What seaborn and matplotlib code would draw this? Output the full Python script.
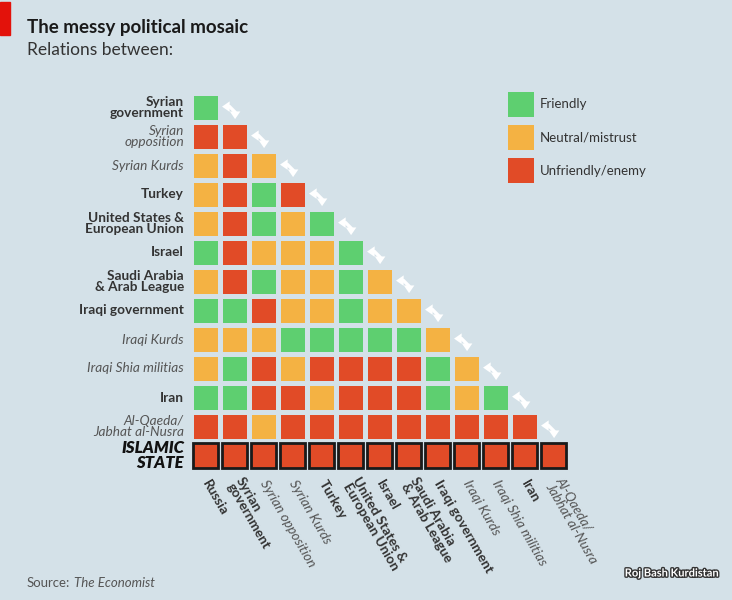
import numpy as np
import pandas as pd
import matplotlib
matplotlib.use('Agg')
import matplotlib.pyplot as plt
import seaborn as sns
from matplotlib.colors import ListedColormap
from matplotlib.patches import Patch, Rectangle
import matplotlib.patheffects as pe

# Labels of the matrix
row_labels = ['Syrian\ngovernment', 'Syrian\nopposition', 'Syrian Kurds', 'Turkey',
              'United States &\nEuropean Union', 'Israel', 'Saudi Arabia\n& Arab League',
              'Iraqi government', 'Iraqi Kurds', 'Iraqi Shia militias', 'Iran',
              'Al-Qaeda/\nJabhat al-Nusra', 'ISLAMIC\nSTATE']
col_labels = ['Russia', 'Syrian\ngovernment', 'Syrian opposition', 'Syrian Kurds', 'Turkey',
              'United States &\nEuropean Union', 'Israel', 'Saudi Arabia\n& Arab League',
              'Iraqi government', 'Iraqi Kurds', 'Iraqi Shia militias', 'Iran',
              'Al-Qaeda/\nJabhat al-Nusra']
italic_labels = ['Syrian\nopposition', 'Syrian opposition', 'Syrian Kurds', 'Iraqi Kurds',
                 'Iraqi Shia militias', 'Al-Qaeda/\nJabhat al-Nusra']

# 0 = friendly, 1 = neutral/mistrust, 2 = unfriendly/enemy
relations = [
    [0],
    [2, 2],
    [1, 2, 1],
    [1, 2, 0, 2],
    [1, 2, 0, 1, 0],
    [0, 2, 1, 1, 1, 0],
    [1, 2, 0, 1, 1, 0, 1],
    [0, 0, 2, 1, 1, 0, 1, 1],
    [1, 1, 1, 0, 0, 0, 0, 0, 1],
    [1, 0, 2, 1, 2, 2, 2, 2, 0, 1],
    [0, 0, 2, 2, 1, 2, 2, 2, 0, 1, 0],
    [2, 2, 1, 2, 2, 2, 2, 2, 2, 2, 2, 2],
    [2, 2, 2, 2, 2, 2, 2, 2, 2, 2, 2, 2, 2],
]
legend_labels = ['Friendly', 'Neutral/mistrust', 'Unfriendly/enemy']
colors = ['#5ecf70', '#f4b243', '#e14b27']

n = len(row_labels)
grid = np.full((n, len(col_labels)), np.nan)
for i, row in enumerate(relations):
    grid[i, :len(row)] = row
df = pd.DataFrame(grid, index=row_labels, columns=col_labels)

bg = '#d4e1e8'
sns.set_style('white')
plt.rcParams['font.family'] = ['Lato', 'DejaVu Sans']

fig = plt.figure(figsize=(7.32, 6), dpi=100, facecolor=bg)
ax = fig.add_axes([191 / 732, 1 - 470 / 600, 377 / 732, 377 / 600])
ax.set_facecolor(bg)

sns.heatmap(df, mask=df.isna(), cmap=ListedColormap(colors), vmin=-0.5, vmax=2.5,
            cbar=False, linewidths=2.2, linecolor=bg, ax=ax)

# black outline on the Islamic State row
for j in range(len(relations[-1])):
    ax.add_patch(Rectangle((j + 0.08, n - 1 + 0.08), 0.84, 0.84, fill=False,
                           ec='#1a1a1a', lw=2.0, zorder=3))

# white double arrows along the diagonal: left head on top, down head at bottom
head = dict(arrowstyle='-|>,head_length=0.55,head_width=0.38', color='white', lw=0,
            mutation_scale=10, shrinkA=0, shrinkB=0)
for i in range(n - 1):
    x0, y0 = i + 1, i
    ax.plot([x0 + 0.2, x0 + 0.33, x0 + 0.52, x0 + 0.52],
            [y0 + 0.47, y0 + 0.47, y0 + 0.66, y0 + 0.76],
            color='white', lw=2.4, solid_joinstyle='miter', solid_capstyle='butt')
    ax.annotate('', xy=(x0 + 0.07, y0 + 0.47), xytext=(x0 + 0.22, y0 + 0.47), arrowprops=head)
    ax.annotate('', xy=(x0 + 0.52, y0 + 0.9), xytext=(x0 + 0.52, y0 + 0.74), arrowprops=head)

ax.tick_params(axis='y', length=0, pad=5)
ax.tick_params(axis='x', length=0, pad=8)
ax.set_xlabel('')
ax.set_ylabel('')
ax.set_yticklabels(row_labels, rotation=0)
ax.set_xticklabels(col_labels, rotation=-60, ha='left', va='center', rotation_mode='anchor')

for lab in ax.get_yticklabels() + ax.get_xticklabels():
    txt = lab.get_text()
    lab.set_fontsize(9.8)
    lab.set_linespacing(0.9)
    if txt in italic_labels:
        lab.set_fontstyle('italic')
        lab.set_color('#555555')
    elif txt == 'ISLAMIC\nSTATE':
        lab.set_fontweight('heavy')
        lab.set_fontstyle('italic')
        lab.set_fontsize(12)
        lab.set_color('#111111')
        lab.set_linespacing(0.85)
    else:
        lab.set_fontweight('bold')
        lab.set_color('#333333')

handles = [Patch(facecolor=c, edgecolor='none') for c in colors]
ax.legend(handles, legend_labels, loc='upper left', bbox_to_anchor=(508 / 732, 1 - 92 / 600),
          bbox_transform=fig.transFigure, frameon=False, fontsize=9.5, labelcolor='#333333',
          handlelength=1.95, handleheight=2.5, labelspacing=0.65, handletextpad=0.45,
          borderpad=0, borderaxespad=0)

# titles and source
fig.add_artist(Rectangle((0, 1 - 35 / 600), 10 / 732, 33 / 600, transform=fig.transFigure,
                         color='#e3120b'))
fig.text(27 / 732, 1 - 28 / 600, 'The messy political mosaic', fontsize=13.5,
         fontweight='bold', color='#1a1a1a', va='center')
fig.text(27 / 732, 1 - 50 / 600, 'Relations between:', fontsize=12.5, color='#333333', va='center')
src = fig.text(27 / 732, 1 - 583 / 600, 'Source:', fontsize=9.5, color='#555555', va='center')
fig.canvas.draw()
x_end = src.get_window_extent().x1 / fig.bbox.width
fig.text(x_end + 4 / 732, 1 - 583 / 600, 'The Economist', fontsize=9.5, fontstyle='italic',
         color='#555555', va='center')
fig.text(672 / 732, 1 - 573 / 600, 'Roj Bash Kurdistan', fontsize=8, fontweight='bold',
         color='white', ha='center', va='center',
         path_effects=[pe.withStroke(linewidth=2, foreground='#333333')])

fig.savefig('out.png', dpi=100, facecolor=bg)
